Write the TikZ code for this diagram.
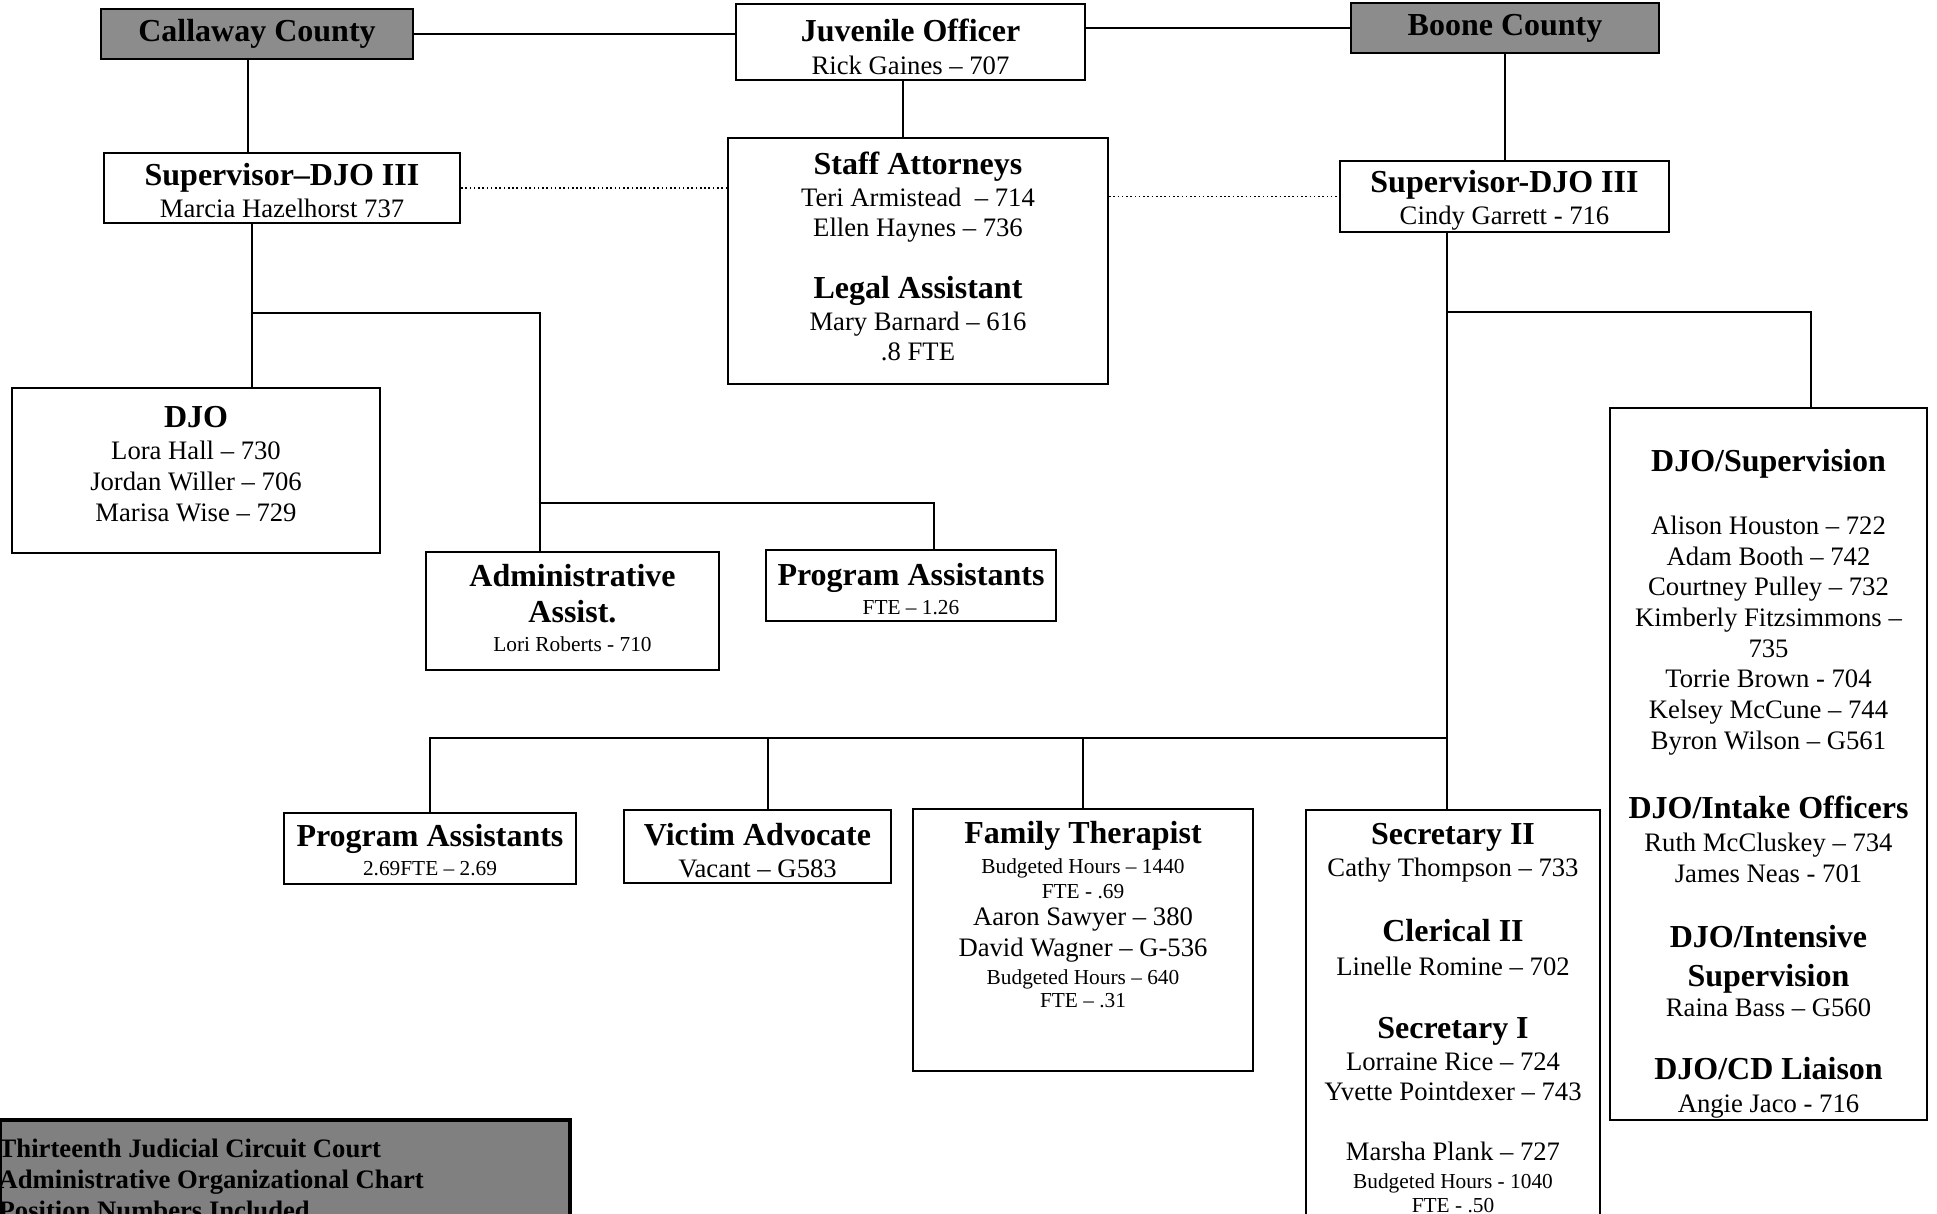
\documentclass[tikz,border=0pt]{standalone}
\usepackage{fontspec}
\setmainfont{Liberation Serif}
\usetikzlibrary{positioning,fit}

\newcommand{\boxhead}[1]{{\fontsize{12}{14}\selectfont\bfseries #1}}
\newcommand{\boxnote}[1]{{\fontsize{8}{9.6}\selectfont #1}}

\tikzset{
  box/.style={draw, line width=0.75pt, inner sep=0pt},
  county/.style={box, fill=black!45, line width=1pt},
  boxtext/.style={inner sep=0pt, align=center, font=\fontsize{10}{11.5}\selectfont},
  link/.style={line width=0.5pt},
  dotlink/.style={line width=0.5pt, dash pattern=on 0.6pt off 1pt}
}

\begin{document}
\begin{tikzpicture}[x=0.375pt, y=-0.375pt]
    \useasboundingbox (0,0) rectangle (1937,1213);
    \clip (0,0) rectangle (1937,1213);

    % Top row
    \node[county, fit={(101,9) (413,59)}] (callaway) {};
    \node[boxtext] at (callaway) {\boxhead{Callaway County}};
    \node[box, fit={(736,4) (1085,80)}] (juvenile) {};
    \node[boxtext, yshift=-1.7pt] at (juvenile) {\boxhead{Juvenile Officer}\\[1pt] Rick Gaines -- 707};
    \node[county, fit={(1351,3) (1659,53)}] (boone) {};
    \node[boxtext] at (boone) {\boxhead{Boone County}};

    % Supervisors and attorneys
    \node[box, fit={(104,153) (460,223)}] (supcal) {};
    \node[boxtext, yshift=-1.1pt] at (supcal) {\boxhead{Supervisor--DJO III}\\[0.5pt] Marcia Hazelhorst 737};
    \node[box, fit={(728,138) (1108,384)}] (staff) {};
    \node[boxtext, yshift=1.7pt] at (staff) {\boxhead{Staff Attorneys}\\[0.5pt] Teri Armistead~ -- 714\\ Ellen Haynes -- 736\\[11.5pt]
        \boxhead{Legal Assistant}\\[0.5pt] Mary Barnard -- 616\\ .8 FTE};
    \node[box, fit={(1340,161) (1669,232)}] (supboone) {};
    \node[boxtext, yshift=-1.3pt] at (supboone) {\boxhead{Supervisor-DJO III}\\[0.5pt] Cindy Garrett - 716};

    % Callaway County staff
    \node[box, fit={(12,388) (380,553)}] (djo) {};
    \node[boxtext, yshift=2.4pt] at (djo) {\boxhead{DJO}\\[0.5pt] Lora Hall -- 730\\ Jordan Willer -- 706\\ Marisa Wise -- 729};
    \node[box, fit={(426,552) (719,670)}] (admin) {};
    \node[boxtext, yshift=1.1pt] at (admin) {\boxhead{Administrative}\\[2pt] \boxhead{Assist.}\\[-0.5pt] \boxnote{Lori Roberts - 710}};
    \node[box, fit={(766,550) (1056,621)}] (proga) {};
    \node[boxtext, yshift=-1.3pt] at (proga) {\boxhead{Program Assistants}\\[-0.4pt] \boxnote{FTE -- 1.26}};

    % Boone County staff
    \node[box, fit={(1610,408) (1927,1120)}] (djosup) {};
    \node[boxtext, below=15.7pt of djosup.north] (djosuptext) {\boxhead{DJO/Supervision}\\[12.1pt]
        Alison Houston -- 722\\ Adam Booth -- 742\\ Courtney Pulley -- 732\\
        Kimberly Fitzsimmons --\\ 735\\ Torrie Brown - 704\\ Kelsey McCune -- 744\\
        Byron Wilson -- G561\\[14.4pt]
        \boxhead{DJO/Intake Officers}\\[1pt] Ruth McCluskey -- 734\\ James Neas - 701\\[13pt]
        \boxhead{DJO/Intensive}\\[2.9pt] \boxhead{Supervision}\\ Raina Bass -- G560\\[12.1pt]
        \boxhead{DJO/CD Liaison}\\[1pt] Angie Jaco - 716};
    \node[box, fit={(284,813) (576,884)}] (progb) {};
    \node[boxtext, yshift=-0.5pt] at (progb) {\boxhead{Program Assistants}\\[-0.7pt] \boxnote{2.69FTE -- 2.69}};
    \node[box, fit={(624,810) (891,883)}] (victim) {};
    \node[boxtext, yshift=-1.7pt] at (victim) {\boxhead{Victim Advocate}\\[0.5pt] Vacant -- G583};
    \node[box, fit={(913,809) (1253,1071)}] (family) {};
    \node[boxtext, below=4.9pt of family.north] (familytext) {\boxhead{Family Therapist}\\[-0.25pt]
        \boxnote{Budgeted Hours -- 1440}\\[-2.1pt] \boxnote{FTE - .69}\\[-1.4pt]
        Aaron Sawyer -- 380\\[0.1pt] David Wagner -- G-536\\[-1pt]
        \boxnote{Budgeted Hours -- 640}\\[-2.9pt] \boxnote{FTE -- .31}};
    \node[box, fit={(1306,810) (1600,1240)}] (secii) {};
    \node[boxtext, below=5pt of secii.north] (seciitext) {\boxhead{Secretary II}\\[0.5pt] Cathy Thompson -- 733\\[12.9pt]
        \boxhead{Clerical II}\\[1.25pt] Linelle Romine -- 702\\[12.1pt]
        \boxhead{Secretary I}\\[0.5pt] Lorraine Rice -- 724\\[-0.25pt] Yvette Pointdexer -- 743\\[11pt]
        Marsha Plank -- 727\\[-0.8pt] \boxnote{Budgeted Hours - 1040}\\[-2.7pt] \boxnote{FTE - .50}};

    % Title block
    \node[box, fill=black!50, line width=1.4pt, fit={(0,1120) (570,1240)}] (banner) {};
    \node[boxtext, align=left, font=\fontsize{10}{11.6}\selectfont\bfseries,
        below right=7.5pt and 0pt of banner.north west] (bannertext)
        {Thirteenth Judicial Circuit Court\\ Administrative Organizational Chart\\ Position Numbers Included};

    % Bends of the connectors
    \coordinate (cdrop) at (248,100);
    \coordinate (jdrop) at (903,100);
    \coordinate (calsplit) at (252,313);
    \coordinate (admsplit) at (540,503);
    \coordinate (pasplit) at (934,503);
    \coordinate (boosplit) at (1447,312);
    \coordinate (supdrop) at (1811,312);
    \coordinate (lowsplit) at (1447,738);
    \coordinate (vicdrop) at (768,738);

    % Connectors
    \draw[link] (callaway.east) -- (callaway.east -| juvenile.west);
    \draw[link] (juvenile.east |- boone.west) -- (boone.west);
    \draw[link] (callaway.south -| cdrop) -- (supcal.north -| cdrop);
    \draw[link] (juvenile.south -| jdrop) -- (staff.north -| jdrop);
    \draw[link] (boone.south) -- (boone.south |- supboone.north);
    \draw[dotlink] (supcal.east) -- (supcal.east -| staff.west);
    \draw[dotlink] (staff.east |- supboone.west) -- (supboone.west);

    \draw[link] (supcal.south -| calsplit) -- (djo.north -| calsplit);
    \draw[link] (calsplit) -| (admin.north -| admsplit);
    \draw[link] (admsplit) -| (proga.north -| pasplit);

    \draw[link] (supboone.south -| boosplit) -- (secii.north -| boosplit);
    \draw[link] (boosplit) -| (djosup.north -| supdrop);
    \draw[link] (lowsplit) -| (progb.north);
    \draw[link] (vicdrop) -- (victim.north -| vicdrop);
    \draw[link] (family.north) -- (family.north |- lowsplit);
\end{tikzpicture}
\end{document}
